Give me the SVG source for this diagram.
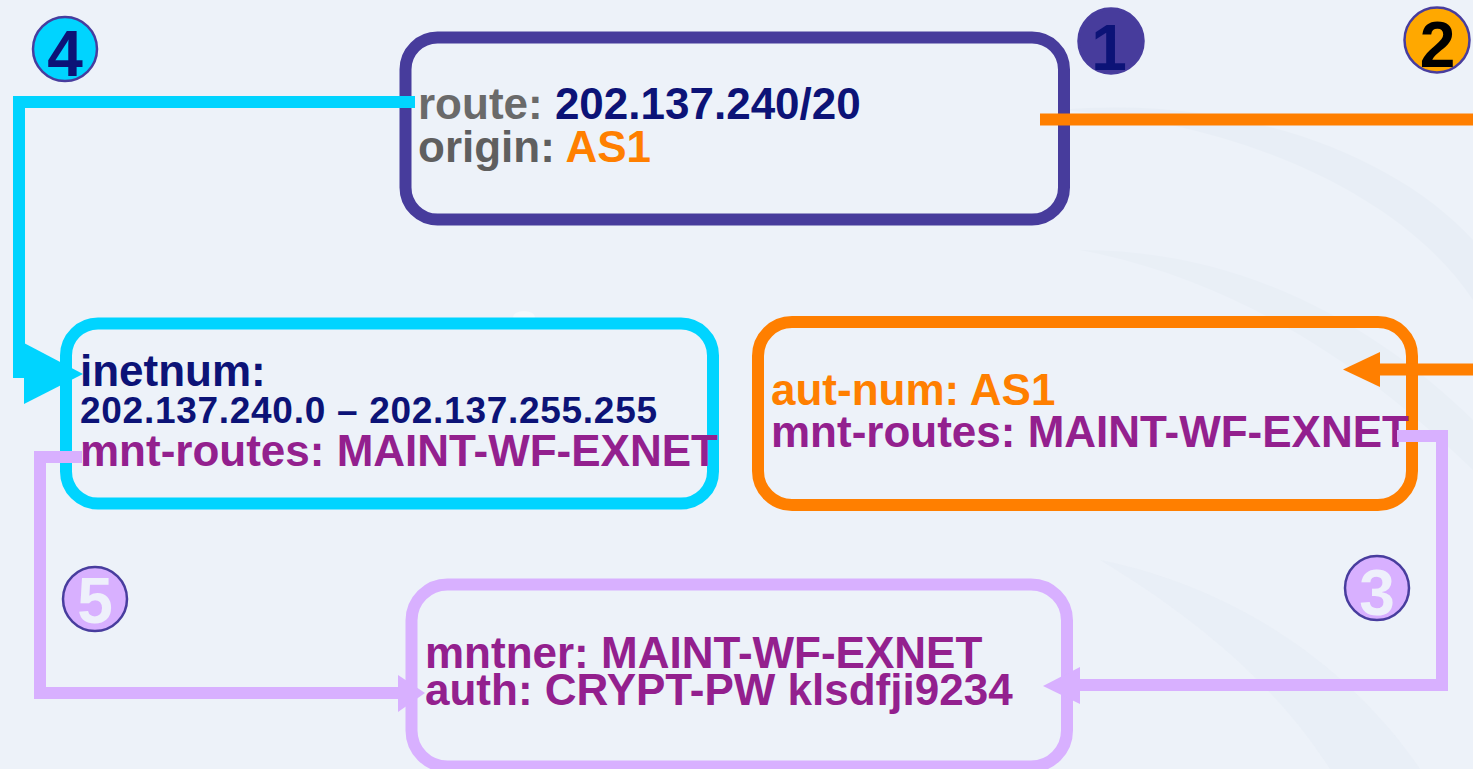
<svg xmlns="http://www.w3.org/2000/svg" width="1473" height="769" viewBox="0 0 1473 769">
  <style>
    .box { fill: none; stroke-width: 12; }
    .txt { font-family: "Liberation Sans", Arial, sans-serif; font-weight: bold; font-size: 44px; }
    .small { font-size: 37px; }
    .num { font-family: "Liberation Sans", Arial, sans-serif; font-weight: bold; font-size: 64px; text-anchor: middle; }
    .badge { stroke: #483d9e; stroke-width: 2.5; }
    .link { fill: none; stroke-width: 12; stroke-linecap: butt; stroke-linejoin: miter; }
    .grey { fill: #6a6a6a; }
    .navy { fill: #0c1377; }
    .orange { fill: #ff7f00; }
    .purple { fill: #93208e; }
  </style>

  <!-- page background with faint swooshes -->
  <rect x="0" y="0" width="1473" height="769" fill="#edf2f9"/>
  <g id="background" opacity="0.45">
    <path d="M1060 110 C1230 120 1400 190 1473 300 L1473 240 C1390 150 1230 95 1060 110 Z" fill="#e4ebf3"/>
    <path d="M1080 250 C1250 250 1380 330 1473 420 L1473 470 C1370 370 1240 280 1080 250 Z" fill="#e5ecf4"/>
    <path d="M1100 560 C1250 590 1360 680 1420 769 L1330 769 C1280 690 1200 620 1100 560 Z" fill="#e5ecf4"/>
    <ellipse cx="524" cy="317" rx="11" ry="6" fill="#ffffff"/>
  </g>

  <!-- route object -->
  <g id="node-route">
    <rect class="box" x="405.5" y="37.5" width="658.5" height="182" rx="32" stroke="#473c9c"/>
    <text class="txt" x="418" y="119"><tspan class="grey">route: </tspan><tspan class="navy">202.137.240/20</tspan></text>
    <text class="txt" x="418" y="162"><tspan fill="#5f5f5f">origin: </tspan><tspan class="orange">AS1</tspan></text>
  </g>

  <!-- inetnum object -->
  <g id="node-inetnum">
    <rect class="box" x="66" y="323.5" width="647" height="180" rx="32" stroke="#00d4ff"/>
    <text class="txt navy" x="80" y="386">inetnum:</text>
    <text class="txt small navy" x="80" y="423" textLength="577" lengthAdjust="spacing">202.137.240.0 – 202.137.255.255</text>
    <text class="txt purple" x="80" y="466">mnt-routes: MAINT-WF-EXNET</text>
  </g>

  <!-- aut-num object -->
  <g id="node-autnum">
    <rect class="box" x="758" y="322" width="654" height="183" rx="34" stroke="#ff7f00"/>
    <text class="txt orange" x="771" y="405">aut-num: AS1</text>
    <text class="txt purple" x="771" y="447">mnt-routes: MAINT-WF-EXNET</text>
  </g>

  <!-- mntner object -->
  <g id="node-mntner">
    <rect class="box" x="411.5" y="584.5" width="655.5" height="182" rx="36" stroke="#d8b0ff"/>
    <text class="txt purple" x="425" y="668">mntner: MAINT-WF-EXNET</text>
    <text class="txt purple" x="425" y="705">auth: CRYPT-PW klsdfji9234</text>
  </g>

  <!-- connectors -->
  <g id="connectors">
    <!-- route -> inetnum -->
    <path class="link" stroke="#00d4ff" d="M415 102 H19 V378"/>
    <polygon fill="#00d4ff" points="24,343 83,374 24,404"/>
    <!-- route origin -> aut-num -->
    <path class="link" stroke="#ff7f00" d="M1040 119.5 H1473"/>
    <path class="link" stroke="#ff7f00" d="M1473 369.5 H1378"/>
    <polygon fill="#ff7f00" points="1380,352 1343,369.5 1380,387"/>
    <!-- aut-num mnt-routes -> mntner -->
    <path class="link" stroke="#d8b0ff" d="M1397 436 H1442 V685 H1078"/>
    <polygon fill="#d8b0ff" points="1080,667 1043,686 1080,704"/>
    <!-- inetnum mnt-routes -> mntner -->
    <path class="link" stroke="#d8b0ff" d="M82 457 H40 V693 H400"/>
    <polygon fill="#d8b0ff" points="398,675 425,693 398,712"/>
  </g>

  <!-- step badges -->
  <g id="badge-1">
    <circle class="badge" cx="1111" cy="41" r="32.5" fill="#473c9c"/>
    <text class="num navy" x="1109" y="70">1</text>
  </g>
  <g id="badge-2">
    <circle class="badge" cx="1437" cy="40" r="32.5" fill="#ffa800"/>
    <text class="num" x="1437.5" y="67" fill="#000000">2</text>
  </g>
  <g id="badge-3">
    <circle class="badge" cx="1377" cy="588" r="32" fill="#d8b0ff"/>
    <text class="num" x="1377" y="615" fill="#eef0fb">3</text>
  </g>
  <g id="badge-4">
    <circle class="badge" cx="65" cy="49" r="32" fill="#00d4ff"/>
    <text class="num navy" x="65" y="76">4</text>
  </g>
  <g id="badge-5">
    <circle class="badge" cx="95" cy="599" r="32" fill="#d8b0ff"/>
    <text class="num" x="95" y="623" fill="#eef0fb">5</text>
  </g>
</svg>
